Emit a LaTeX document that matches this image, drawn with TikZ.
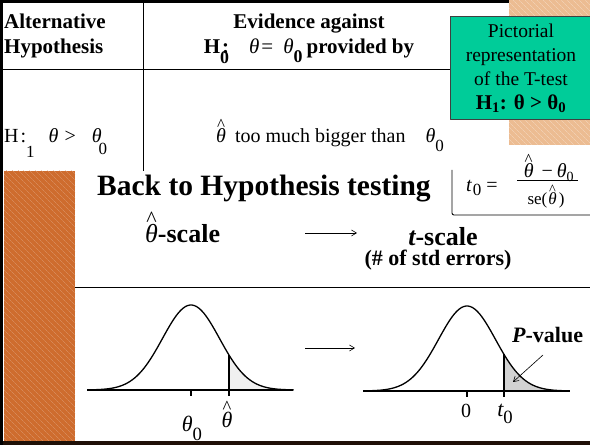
\documentclass[tikz,border=0pt]{standalone}
\usepackage{fontspec}
\setmainfont{Liberation Serif}
\usepackage{graphicx}
\usepackage{tikz}
\usetikzlibrary{arrows.meta,calc,patterns.meta}
\definecolor{slideorange}{RGB}{206,108,46}
\definecolor{peach}{RGB}{236,188,146}
\definecolor{testgreen}{RGB}{0,204,153}
\newcommand{\lowsub}[2][0.4em]{\raisebox{-#1}{\scalebox{0.85}{#2}}}
\newcommand{\thhat}{{\ooalign{\normalfont\itshape θ\cr\hidewidth\raisebox{0.64em}{\normalfont\scalebox{0.85}{\textasciicircum}}\hidewidth\cr}}}
\tikzset{
  frameline/.style={line width=3pt},
  rule/.style={line width=0.9pt},
  headtxt/.style={inner sep=0pt,font=\fontsize{21}{25}\selectfont\bfseries},
  rowtxt/.style={inner sep=0pt,font=\fontsize{20}{24}\selectfont},
  titletxt/.style={inner sep=0pt,font=\fontsize{29.5}{34}\selectfont\bfseries},
  scaletxt/.style={inner sep=0pt,font=\fontsize{26}{30}\selectfont\bfseries},
  curvetxt/.style={inner sep=0pt,font=\fontsize{22}{26}\selectfont},
  greenbox/.style={draw=black!75,line width=0.8pt,fill=testgreen,minimum width=142pt,minimum height=103pt,inner sep=0pt},
  picttxt/.style={inner sep=0pt,align=center,font=\fontsize{19.5}{24}\selectfont},
  hatch/.style={pattern={Lines[angle=-45,distance=4pt,line width=0.4pt]},pattern color=#1},
  bell/.style={line width=1.3pt},
  baseaxis/.style={line width=2pt},
  thinarrow/.style={->,line width=0.6pt}
}
\begin{document}
\begin{tikzpicture}[x=1pt,y=1pt,>={Straight Barb[length=5pt,width=6pt]},line join=round]
  \useasboundingbox (0,0) rectangle (590,445);
  \fill[slideorange] (4,4) rectangle (75,274);
  \fill[hatch=slideorange!70!white] (4,4) rectangle (75,274);
  \fill[peach] (509,300) rectangle (590,445);
  \fill[hatch=peach!55!white] (509,300) rectangle (590,445);
  \draw[rule] (143,443) -- (143,274);
  \draw[rule] (3,376) -- (450,376);
  \draw[line width=2.5pt] (0,443.7) -- (509,443.7);
  \node[greenbox] (pict) at (521,377.5) {};
  \node[picttxt,anchor=north] (picttext) at (521,421)
    {Pictorial\\representation\\of the T-test\\{\fontsize{21}{24}\selectfont\bfseries H\textsubscript{1}: θ > θ\textsubscript{0}}};
  \node[headtxt,align=left,anchor=north west] (althyp) at (4,431) {Alternative\\Hypothesis};
  \node[headtxt,align=center,anchor=north] (evid) at (309,431)
    {Evidence against\\H\rlap{\lowsub[0.45em]{0}}\kern2pt:\hspace{20pt}{\mdseries\itshape θ}\kern2pt{\mdseries =}\hspace{10pt}{\mdseries\itshape θ}\lowsub{0}\kern4pt provided by};
  \node[rowtxt,anchor=base west] (halt) at (4,302)
    {H\kern2pt:\lowsub[0.75em]{1}\hspace{14pt}{\itshape θ}\kern6pt>\hspace{16pt}{\itshape θ}\kern-3pt\lowsub[0.6em]{0}};
  \node[rowtxt,anchor=base west] (hbig) at (216,302)
    {\thhat\hspace{9pt}too much bigger than\hspace{20pt}{\itshape θ}\lowsub[0.45em]{0}};
  \node[titletxt,anchor=base west] (backto) at (97,249) {Back to Hypothesis testing};
  \draw[rule,rounded corners=2pt] (452,275) -- (452,230) -- (590,230);
  \node[rowtxt,anchor=base west] (tnought) at (466,253) {{\itshape t}\kern1pt\lowsub[0.2em]{0}\hspace{5pt}=};
  \node[rowtxt,anchor=base] (tnum) at (549,267) {\thhat\hspace{8pt}−\hspace{4pt}{\itshape θ}\textsubscript{0}};
  \coordinate (barL) at (517,265);
  \coordinate (barR) at (578,265);
  \draw[line width=0.7pt] (barL) -- (barR);
  \node[inner sep=0pt,font=\fontsize{17}{20}\selectfont,anchor=base] (tden) at (546,240) {se(\kern1pt\thhat\kern2pt)};
  \node[scaletxt,anchor=base west] (thscale) at (145,202) {\thhat-scale};
  \node[scaletxt,anchor=base] (tscale) at (443,199) {{\itshape t}-scale};
  \node[inner sep=0pt,font=\fontsize{22}{26}\selectfont\bfseries,anchor=base] (nstd) at (438,179) {(\# of std errors)};
  \coordinate (sclfrom) at (305,212);
  \coordinate (sclto) at (357,212);
  \draw[thinarrow] (sclfrom) -- (sclto);
  \draw[rule] (75,158) -- (590,158);
  \fill[gray!12] (229,55) -- plot[domain=1.333:3.6,samples=40] ({191+28.5*\x},{55+85*exp(-0.5*(\x)*(\x))}) -- cycle;
  \draw[bell] plot[domain=-3.6:3.6,samples=90] ({191+28.5*\x},{55+85*exp(-0.5*(\x)*(\x))});
  \draw[baseaxis] (87,55) -- (293,55);
  \draw[line width=1.5pt] (191,55) -- (191,49);
  \draw[line width=1.5pt] (229,49) -- (229,90);
  \node[curvetxt,anchor=base] (lthnot) at (192,13) {{\itshape θ}\lowsub{0}};
  \node[curvetxt,anchor=base] (lthhat) at (227,17) {\thhat};
  \coordinate (crvfrom) at (305,97);
  \coordinate (crvto) at (355,97);
  \draw[thinarrow] (crvfrom) -- (crvto);
  \fill[gray!35] (504,54) -- plot[domain=1.298:3.6,samples=40] ({467+28.5*\x},{54+85*exp(-0.5*(\x)*(\x))}) -- cycle;
  \draw[bell] plot[domain=-3.6:3.6,samples=90] ({467+28.5*\x},{54+85*exp(-0.5*(\x)*(\x))});
  \draw[baseaxis] (363,54) -- (570,54);
  \draw[line width=1.5pt] (467,54) -- (467,48);
  \draw[line width=1.5pt] (504,48) -- (504,90.6);
  \node[inner sep=0pt,font=\fontsize{20}{24}\selectfont,anchor=base] (zero) at (466,27) {0};
  \node[curvetxt,anchor=base] (tcut) at (505,28) {{\itshape t}\lowsub[0.3em]{0}};
  \node[curvetxt,font=\fontsize{22}{26}\selectfont\bfseries,anchor=base west] (pval) at (512,102) {{\itshape P}-value};
  \coordinate (pvfrom) at (543,90);
  \coordinate (pvtip) at (513,63);
  \draw[thinarrow] (pvfrom) -- (pvtip);
  \fill[black!85!slideorange] (0,0) rectangle (590,4);
  \draw[frameline] (1.5,0) -- (1.5,445);
\end{tikzpicture}
\end{document}
